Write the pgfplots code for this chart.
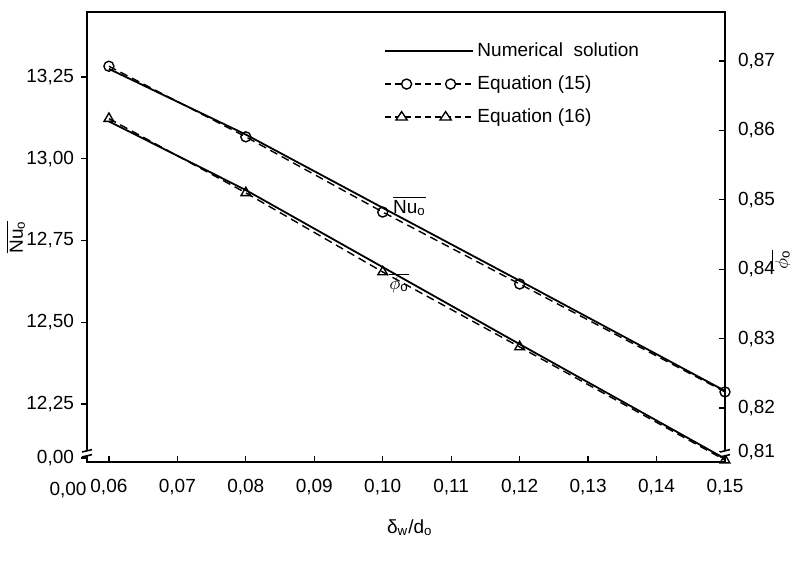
\documentclass[border=0pt]{standalone}
\usepackage{pgfplots}
\pgfplotsset{compat=1.18}
\usepackage{amsmath}
\usepackage{fontspec}
\setmainfont{Liberation Sans}
\usetikzlibrary{calc}

\begin{document}
\begin{tikzpicture}
\pgfplotsset{
  every axis/.append style={scale only axis, width=319pt, height=225pt,
    font=\fontsize{9.5}{11}\selectfont,
    xmin=0.0568, xmax=0.15,
    tick style={black, line width=0.6pt}, major tick length=3pt,
    axis line style={line width=1pt}},
  numline/.style={black, line width=0.9pt, no markers},
  eqline/.style={black, line width=0.7pt, dash pattern=on 4pt off 2.5pt},
}
\begin{axis}[name=ax,
  ymin=12.0726, ymax=13.4488,
  xtick pos=bottom, ytick pos=left,
  xtick align=inside, ytick align=outside,
  ytick={12.085,12.25,12.5,12.75,13,13.25},
  yticklabels={0{,}00,12{,}25,12{,}50,12{,}75,13{,}00,13{,}25},
  xtick={0.06,0.07,0.08,0.09,0.10,0.11,0.12,0.13,0.14,0.15},
  xticklabels={0{,}06,0{,}07,0{,}08,0{,}09,0{,}10,0{,}11,0{,}12,0{,}13,0{,}14,0{,}15},
  xticklabel style={yshift=-5pt},
  xlabel={δ\textsubscript{w}/d\textsubscript{o}},
  xlabel style={at={(axis description cs:0.506,-0.147)}, anchor=center},
  ylabel={$\overline{\text{Nu}_\text{o}}$},
  ylabel style={at={(axis description cs:-0.112,0.50)}, anchor=center},
  legend style={at={(rel axis cs:0.455,0.95)}, anchor=north west, draw=none, fill=none,
    row sep=4pt, font=\fontsize{9.5}{11}\selectfont},
  legend cell align=left,
]
\addlegendimage{legend image code/.code={\draw[black, line width=0.9pt] (0pt,0pt) -- (44pt,0pt);}}
\addlegendentry{Numerical\ \ solution}
\addlegendimage{legend image code/.code={\draw[black, line width=0.7pt, dash pattern=on 3pt off 2pt] (0pt,0pt) -- (44pt,0pt);
  \draw[black, line width=0.7pt, fill=white] (11pt,0pt) circle (2.5pt);
  \draw[black, line width=0.7pt, fill=white] (33pt,0pt) circle (2.5pt);}}
\addlegendentry{Equation (15)}
\addlegendimage{legend image code/.code={\draw[black, line width=0.7pt, dash pattern=on 3pt off 2pt] (0pt,0pt) -- (44pt,0pt);
  \draw[black, line width=0.7pt, fill=white] (8.5pt,2.6pt) -- (11.3pt,-1.6pt) -- (5.7pt,-1.6pt) -- cycle;
  \draw[black, line width=0.7pt, fill=white] (30.5pt,2.6pt) -- (33.3pt,-1.6pt) -- (27.7pt,-1.6pt) -- cycle;}}
\addlegendentry{Equation (16)}

% Numerical solution, Nu_o
\addplot[numline, forget plot] coordinates {(0.06,13.275) (0.08,13.074) (0.10,12.850) (0.12,12.627) (0.15,12.290)};
% Equation (15)
\addplot[eqline, mark=o, mark size=2.5pt, mark options={solid, fill=white, line width=0.7pt}, forget plot]
  coordinates {(0.06,13.283) (0.08,13.067) (0.10,12.837) (0.12,12.617) (0.15,12.287)};
\node at (axis cs:0.1039,12.855) {$\overline{\text{Nu}_\text{o}}$};
\node at (axis cs:0.1024,12.62) {$\overline{\phi_\text{o}}$};
\end{axis}

\begin{axis}[
  axis y line*=right, axis x line=none,
  ymin=0.81222, ymax=0.87706,
  ytick align=inside,
  ytick={0.8137,0.82,0.83,0.84,0.85,0.86,0.87},
  yticklabels={0{,}81,0{,}82,0{,}83,0{,}84,0{,}85,0{,}86,0{,}87},
  yticklabel style={xshift=3pt},
  ylabel={$\overline{\phi_\text{o}}$},
  ylabel style={at={(axis description cs:1.088,0.45)}, anchor=center},
]
% Numerical solution, phi_o
\addplot[numline] coordinates {(0.06,0.8613) (0.08,0.8514) (0.10,0.8403) (0.12,0.8292) (0.15,0.8127)};
% Equation (16)
\addplot[eqline, mark=triangle, mark size=2.8pt, mark options={solid, fill=white, line width=0.7pt}]
  coordinates {(0.06,0.8617) (0.08,0.8510) (0.10,0.8396) (0.12,0.8288) (0.15,0.8125)};
\end{axis}

% axis break marks
\draw[white, line width=2pt] ($(ax.south west)+(0,3pt)$) -- ++(0,3pt);
\draw[black, line width=0.8pt] ($(ax.south west)+(-2.5pt,2.5pt)$) -- ++(5pt,1.2pt);
\draw[black, line width=0.8pt] ($(ax.south west)+(-2.5pt,5pt)$) -- ++(5pt,1.2pt);
\draw[white, line width=2pt] ($(ax.south east)+(0,3pt)$) -- ++(0,3pt);
\draw[black, line width=0.8pt] ($(ax.south east)+(-2.5pt,2.5pt)$) -- ++(5pt,1.2pt);
\draw[black, line width=0.8pt] ($(ax.south east)+(-2.5pt,5pt)$) -- ++(5pt,1.2pt);
\node at ($(ax.south west)+(-9.5pt,-14pt)$) {\fontsize{9.5}{11}\selectfont 0,00};

\pgfresetboundingbox
\path ($(ax.south west)+(-43.5pt,-51pt)$) rectangle ($(ax.north east)+(32.5pt,6pt)$);
\end{tikzpicture}
\end{document}
